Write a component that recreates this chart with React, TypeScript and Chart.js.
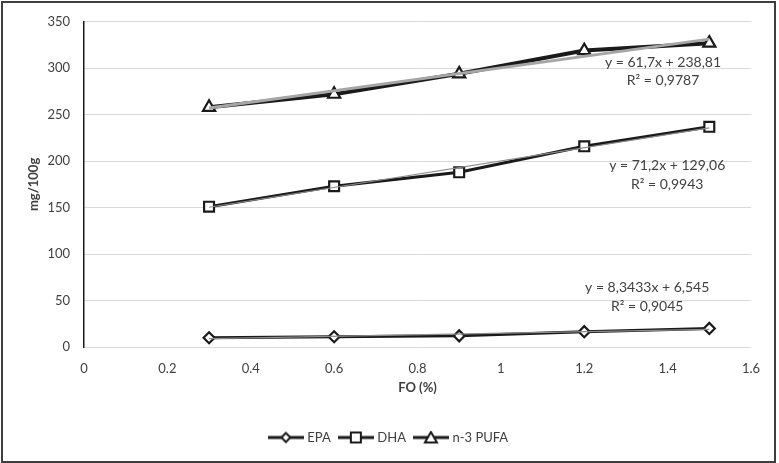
import React, { useEffect, useRef } from "react";
import { Chart, registerables } from "chart.js";

Chart.register(...registerables);

// ---- data ----
const foLevels = [0.3, 0.6, 0.9, 1.2, 1.5];
const epaValues = [10, 11, 12, 16.5, 20];
const dhaValues = [151, 173, 188, 216, 237];
const pufaValues = [258, 272, 294, 319, 327];
const seriesNames = ["EPA", "DHA", "n-3 PUFA"];
const xTickValues = [0, 0.2, 0.4, 0.6, 0.8, 1, 1.2, 1.4, 1.6];
const yTickValues = [0, 50, 100, 150, 200, 250, 300, 350];

// linear trendlines (Excel): y = slope * x + intercept
const trendSlopes = [8.3433, 71.2, 61.7];
const trendIntercepts = [6.545, 129.06, 238.81];
const trendEquations = ["y = 8,3433x + 6,545", "y = 71,2x + 129,06", "y = 61,7x + 238,81"];
const trendR2 = ["R² = 0,9045", "R² = 0,9943", "R² = 0,9787"];

// where the trendline labels sit, in data units
const labelAnchorX = [1.351, 1.399, 1.389];
const labelEqY = [64, 195.3, 306.3];
const labelR2Y = [43.7, 175, 287];

const FONT = "Lato, 'Open Sans', sans-serif";
const TEXT = "#404040";

function makeIcon(kind: string): HTMLCanvasElement {
  const c = document.createElement("canvas");
  c.width = 36;
  c.height = 14;
  const g = c.getContext("2d")!;
  g.strokeStyle = "#1a1a1a";
  g.lineWidth = 3;
  g.beginPath();
  g.moveTo(0, 7);
  g.lineTo(36, 7);
  g.stroke();
  g.fillStyle = "#ffffff";
  g.lineWidth = 2;
  g.beginPath();
  if (kind === "diamond") {
    g.moveTo(18, 2.5);
    g.lineTo(22.5, 7);
    g.lineTo(18, 11.5);
    g.lineTo(13.5, 7);
    g.closePath();
  } else if (kind === "square") {
    g.rect(13, 2, 10, 10);
  } else {
    g.moveTo(18, 1.5);
    g.lineTo(24, 12);
    g.lineTo(12, 12);
    g.closePath();
  }
  g.fill();
  g.stroke();
  return c;
}

const trendLabelPlugin = {
  id: "trendLabels",
  afterDatasetsDraw(chart: any) {
    const { ctx, scales } = chart;
    ctx.save();
    ctx.font = `14px ${FONT}`;
    ctx.fillStyle = TEXT;
    ctx.textAlign = "center";
    ctx.textBaseline = "middle";
    for (let i = 0; i < trendEquations.length; i++) {
      const x = scales.x.getPixelForValue(labelAnchorX[i]);
      ctx.fillText(trendEquations[i], x, scales.y.getPixelForValue(labelEqY[i]));
      ctx.fillText(trendR2[i], x, scales.y.getPixelForValue(labelR2Y[i]));
    }
    ctx.restore();
  },
};

export default function App() {
  const ref = useRef<HTMLCanvasElement | null>(null);

  useEffect(() => {
    const canvas = ref.current;
    if (!canvas) return;
    const icons = [makeIcon("diamond"), makeIcon("square"), makeIcon("triangle")];
    const seriesValues = [epaValues, dhaValues, pufaValues];
    const pointStyles = ["rectRot", "rect", "triangle"];
    const pointRadii = [5.5, 7, 7];
    const lineWidths = [3, 3, 4];
    const trendColors = ["#8c8c8c", "#8c8c8c", "#a6a6a6"];
    const trendWidths = [1.2, 1.2, 3];

    const dataSets: any[] = seriesValues.map((vals, i) => ({
      label: seriesNames[i],
      data: foLevels.map((x, j) => ({ x, y: vals[j] })),
      borderColor: "#1a1a1a",
      backgroundColor: "#ffffff",
      borderWidth: lineWidths[i],
      pointStyle: pointStyles[i],
      pointRadius: pointRadii[i],
      pointBorderWidth: 2.2,
      pointBackgroundColor: "#ffffff",
      pointBorderColor: "#1a1a1a",
      tension: 0,
      order: 1,
    }));
    const trendSets: any[] = trendSlopes.map((s, i) => {
      const xs = [foLevels[0], foLevels[foLevels.length - 1]];
      return {
        label: "trend " + seriesNames[i],
        data: xs.map((x) => ({ x, y: s * x + trendIntercepts[i] })),
        borderColor: trendColors[i],
        borderWidth: trendWidths[i],
        pointRadius: 0,
        tension: 0,
        order: 0,
      };
    });

    const chart = new Chart(canvas, {
      type: "line",
      data: { datasets: [...dataSets, ...trendSets] },
      options: {
        animation: false,
        responsive: false,
        devicePixelRatio: 1,
        layout: { padding: { top: 19, right: 0, bottom: 9, left: 0 } },
        plugins: {
          tooltip: { enabled: false },
          legend: {
            position: "bottom",
            labels: {
              usePointStyle: true,
              pointStyleWidth: 30,
              padding: 10,
              color: TEXT,
              font: { family: FONT, size: 13 },
              filter: (item: any) => item.datasetIndex < 3,
              generateLabels: (ch: any) => {
                const items = (Chart.defaults.plugins.legend.labels as any).generateLabels(ch);
                items.forEach((it: any) => {
                  if (it.datasetIndex < 3) it.pointStyle = icons[it.datasetIndex];
                });
                return items;
              },
            },
          },
        },
        scales: {
          x: {
            type: "linear",
            min: xTickValues[0],
            max: xTickValues[xTickValues.length - 1],
            afterBuildTicks: (scale: any) => {
              scale.ticks = xTickValues.map((v) => ({ value: v }));
            },
            afterFit: (scale: any) => {
              scale.height = 74;
            },
            grid: { display: false },
            border: { display: false },
            ticks: {
              padding: 6,
              color: TEXT,
              font: { family: FONT, size: 13 },
              callback: (v: any) => String(Number(Number(v).toFixed(1))),
            },
            title: {
              display: true,
              text: "FO (%)",
              color: TEXT,
              font: { family: FONT, size: 13, weight: "bold" },
              padding: { top: 4, bottom: 25 },
            },
          },
          y: {
            type: "linear",
            min: yTickValues[0],
            max: yTickValues[yTickValues.length - 1],
            afterBuildTicks: (scale: any) => {
              scale.ticks = yTickValues.map((v) => ({ value: v }));
            },
            afterFit: (scale: any) => {
              scale.width = 84;
            },
            grid: { color: "#d9d9d9", lineWidth: 1, drawTicks: false },
            border: { display: true, color: "#1a1a1a", width: 1.5 },
            ticks: {
              padding: 14,
              color: TEXT,
              font: { family: FONT, size: 13 },
            },
            title: {
              display: true,
              text: "mg/100g",
              color: TEXT,
              font: { family: FONT, size: 13, weight: "bold" },
              padding: { top: 26, bottom: 4 },
            },
          },
          spacer: {
            type: "linear",
            position: "right",
            display: true,
            grid: { display: false },
            border: { display: false },
            ticks: { display: false },
            afterFit: (scale: any) => {
              scale.width = 28;
            },
          },
        },
      },
      plugins: [trendLabelPlugin],
    } as any);

    return () => chart.destroy();
  }, []);

  return (
    <div
      style={{
        position: "fixed",
        left: 0,
        top: 0,
        width: 779,
        height: 463,
        background: "#ffffff",
      }}
    >
      <canvas
        ref={ref}
        width={779}
        height={463}
        style={{ position: "absolute", left: 0, top: 0, display: "block" }}
      />
      <div
        style={{
          position: "absolute",
          left: 1,
          top: 1,
          width: 775,
          height: 462,
          boxSizing: "border-box",
          border: "2px solid #3f3f3f",
          pointerEvents: "none",
        }}
      />
    </div>
  );
}
